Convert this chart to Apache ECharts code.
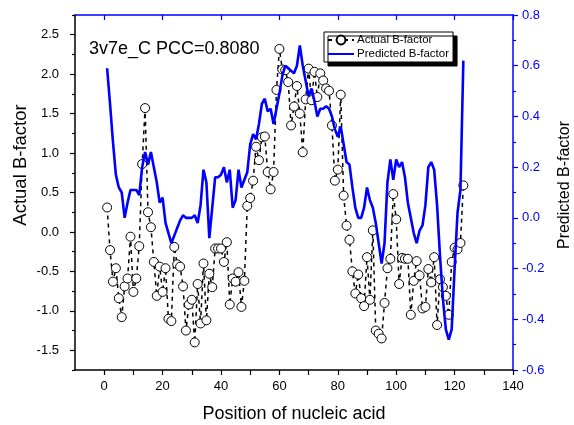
<!DOCTYPE html>
<html>
<head>
<meta charset="utf-8">
<script src="https://cdn.jsdelivr.net/npm/echarts@6/dist/echarts.min.js"></script>
<style>
html,body{margin:0;padding:0;background:#fff;}
#chart{width:574px;height:425px;}
</style>
</head>
<body>
<div id="chart"></div>
<script>
// ---- data ----
var positions = [];
for (var p = 1; p <= 123; p++) positions.push(p);

var actualB = [
 0.31,-0.23,-0.63,-0.46,-0.84,-1.08,-0.69,-0.59,-0.06,-0.76,
-0.59,-0.18, 0.86, 1.57, 0.25, 0.06,-0.38,-0.81,-0.44,-0.76,
-0.46,-1.10,-1.13,-0.19,-0.41,-0.44,-0.69,-1.25,-0.92,-0.86,
-1.40,-0.66,-1.16,-0.40,-1.12,-0.53,-0.70,-0.21,-0.21,-0.21,
-0.38,-0.13,-0.92,-0.59,-0.63,-0.51,-0.95,-0.62, 0.33, 0.43,
 0.65, 1.08, 0.91, 1.20, 1.21, 0.76, 0.54, 0.76, 1.80, 2.32,
 2.06, 2.05, 1.90, 1.35, 1.59, 1.85, 1.50, 1.01, 1.68, 2.07,
 1.67, 2.03, 1.71, 2.01, 1.92, 1.82, 1.79, 1.35, 0.65, 0.79,
 1.74, 0.46, 0.08,-0.10,-0.50,-0.78,-0.54,-0.84,-0.94,-0.32,
-0.86, 0.02,-1.25,-1.29,-1.35,-0.90,-0.46,-0.34, 0.48, 0.16,
-0.66,-0.33,-0.34,-0.34,-1.05,-0.62,-0.37,-0.55,-0.97,-0.95,
-0.47,-0.64,-0.32,-1.18,-0.60,-0.70,-0.81,-1.05,-0.38,-0.20,
-0.22,-0.14, 0.59
];

var predictedB = [
 0.59, 0.45, 0.30, 0.17, 0.12, 0.10, 0.00, 0.06, 0.11, 0.11,
 0.11, 0.09, 0.20, 0.26, 0.21, 0.26, 0.20, 0.14, 0.06, 0.08,
-0.02,-0.06,-0.10,-0.07,-0.04,-0.01, 0.01, 0.00, 0.00, 0.00,
 0.01,-0.02, 0.05, 0.19, 0.14,-0.08, 0.04, 0.16, 0.16, 0.17,
 0.20, 0.14, 0.19, 0.04, 0.07, 0.19, 0.12, 0.15, 0.18, 0.29,
 0.33, 0.31, 0.37, 0.45, 0.47, 0.42, 0.43, 0.37, 0.43, 0.49,
 0.56, 0.60, 0.59, 0.58, 0.57, 0.60, 0.68, 0.60, 0.54, 0.48,
 0.51, 0.46, 0.40, 0.43, 0.43, 0.44, 0.43, 0.40, 0.35, 0.32,
 0.36, 0.29, 0.22, 0.21, 0.12, 0.04, 0.00, 0.00, 0.04, 0.12,
 0.07, 0.04,-0.02,-0.10,-0.18,-0.10, 0.14, 0.23, 0.15, 0.23,
 0.20, 0.22, 0.16, 0.06, 0.00,-0.06,-0.10,-0.05,-0.03, 0.05,
 0.20, 0.22, 0.19, 0.05,-0.15,-0.32,-0.44,-0.48,-0.44,-0.20,
 0.02, 0.11, 0.62
];

var xTicks      = [0, 20, 40, 60, 80, 100, 120, 140];
var xMinorTicks = [10, 30, 50, 70, 90, 110, 130];
var leftTicks   = [-1.5, -1.0, -0.5, 0.0, 0.5, 1.0, 1.5, 2.0, 2.5];
var leftMinor   = [-1.75, -1.25, -0.75, -0.25, 0.25, 0.75, 1.25, 1.75, 2.25, 2.75];
var rightTicks  = [-0.6, -0.4, -0.2, 0.0, 0.2, 0.4, 0.6, 0.8];
var rightMinor  = [-0.5, -0.3, -0.1, 0.1, 0.3, 0.5, 0.7];

var seriesNames = ['Actual B-factor', 'Predicted B-factor'];
var titleText = '3v7e_C PCC=0.8080';
var xName = 'Position of nucleic acid';
var yLeftName = 'Actual B-factor';
var yRightName = 'Predicted B-factor';

// ---- chart ----
var FONT = 'Liberation Sans, Arial, sans-serif';
var BLUE = '#0000ff';
var chart = echarts.init(document.getElementById('chart'), null, {renderer: 'canvas'});

function pairs(vals){ return positions.map(function(x,i){ return [x, vals[i]]; }); }

var option = {
  animation: false,
  backgroundColor: '#ffffff',
  textStyle: {fontFamily: FONT},
  grid: {left: 75, right: 61, top: 15, bottom: 55, containLabel: false},
  legend: {
    show: true,
    orient: 'vertical',
    left: 324, top: 32,
    padding: [2, 4, 2, 3],
    itemGap: 2,
    itemWidth: 26, itemHeight: 11,
    backgroundColor: '#ffffff',
    borderColor: '#000000', borderWidth: 1,
    shadowColor: '#000000', shadowBlur: 0, shadowOffsetX: 4, shadowOffsetY: 4,
    textStyle: {fontFamily: FONT, fontSize: 11.5, color: '#000', padding: [0,0,0,-2]},
    data: [
      {name: seriesNames[0]},
      {name: seriesNames[1], itemStyle: {opacity: 0}}
    ]
  },
  xAxis: [{
    type: 'value', position: 'bottom', min: -10, max: 140,
    axisLine: {show: true, onZero: false, lineStyle: {color: '#000', width: 1.5}},
    axisTick: {show: true, inside: false, length: 5, customValues: xTicks.concat(xMinorTicks), lineStyle: {color: '#000', width: 1.2}},
    axisLabel: {show: true, customValues: xTicks, margin: 10, fontFamily: FONT, fontSize: 13, color: '#000'},
    splitLine: {show: false}
  }, {
    type: 'value', position: 'top', min: -10, max: 140,
    axisLine: {show: true, onZero: false, lineStyle: {color: BLUE, width: 1.5}},
    axisTick: {show: true, inside: true, length: 5, customValues: xTicks, lineStyle: {color: BLUE, width: 1.2}},
    axisLabel: {show: false},
    splitLine: {show: false}
  }],
  yAxis: [{
    type: 'value', position: 'left', offset: 0, min: -1.75, max: 2.75,
    axisLine: {show: true, onZero: false, lineStyle: {color: '#000', width: 1.5}},
    axisTick: {show: true, inside: false, length: 5, customValues: leftTicks, lineStyle: {color: '#000', width: 1.2}},
    axisLabel: {show: true, customValues: leftTicks, margin: 16, fontFamily: FONT, fontSize: 13, color: '#000',
      formatter: function(v){ return v.toFixed(1); }},
    splitLine: {show: false}
  }, {
    type: 'value', position: 'right', offset: 0, min: -0.6, max: 0.8,
    axisLine: {show: true, onZero: false, lineStyle: {color: BLUE, width: 1.5}},
    axisTick: {show: true, inside: false, length: 5, customValues: rightTicks, lineStyle: {color: BLUE, width: 1.2}},
    axisLabel: {show: true, customValues: rightTicks, margin: 9, fontFamily: FONT, fontSize: 13, color: BLUE,
      formatter: function(v){ return v.toFixed(1); }},
    splitLine: {show: false}
  }, {
    type: 'value', position: 'left', offset: 0, min: -1.75, max: 2.75,
    axisLine: {show: false, onZero: false},
    axisTick: {show: true, inside: false, length: 3, customValues: leftMinor, lineStyle: {color: '#000', width: 1.2}},
    axisLabel: {show: false},
    splitLine: {show: false}
  }, {
    type: 'value', position: 'right', offset: 0, min: -0.6, max: 0.8,
    axisLine: {show: false, onZero: false},
    axisTick: {show: true, inside: false, length: 3, customValues: rightMinor, lineStyle: {color: BLUE, width: 1.2}},
    axisLabel: {show: false},
    splitLine: {show: false}
  }],
  series: [{
    name: seriesNames[0], type: 'line', xAxisIndex: 0, yAxisIndex: 0,
    data: pairs(actualB),
    symbol: 'circle', symbolSize: 9, showSymbol: true,
    itemStyle: {color: '#ffffff', borderColor: '#000000', borderWidth: 1},
    lineStyle: {color: '#000000', width: 1.5, type: [4, 4]},
    z: 2
  }, {
    name: seriesNames[1], type: 'line', xAxisIndex: 0, yAxisIndex: 1,
    data: pairs(predictedB),
    symbol: 'none', showSymbol: false,
    itemStyle: {color: BLUE},
    lineStyle: {color: BLUE, width: 2.6},
    z: 3
  }],
  graphic: [{
    type: 'text', left: 89, top: 40,
    style: {text: titleText, fontFamily: FONT, fontSize: 18, fill: '#000'}
  }, {
    type: 'text', x: 294, y: 414,
    style: {text: xName, fontFamily: FONT, fontSize: 18, fill: '#000', align: 'center', verticalAlign: 'middle'}
  }, {
    type: 'text', x: 21, y: 165, rotation: Math.PI/2,
    style: {text: yLeftName, fontFamily: FONT, fontSize: 18.5, fill: '#000', align: 'center', verticalAlign: 'middle'}
  }, {
    type: 'text', x: 565, y: 185, rotation: Math.PI/2,
    style: {text: yRightName, fontFamily: FONT, fontSize: 16, fill: '#000', align: 'center', verticalAlign: 'middle'}
  }]
};
chart.setOption(option);
</script>
</body>
</html>
